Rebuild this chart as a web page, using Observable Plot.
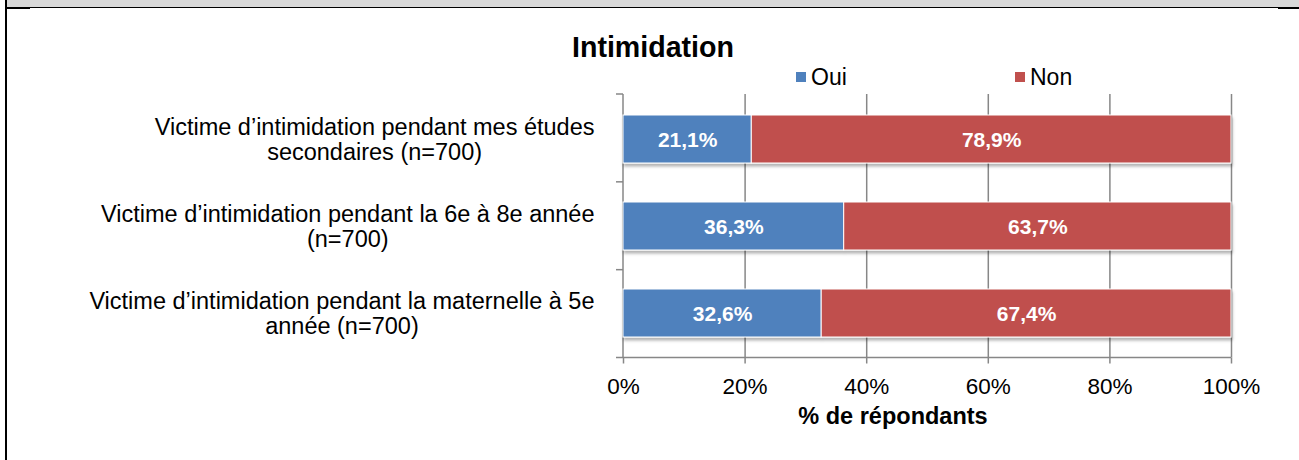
<!DOCTYPE html>
<html>
<head>
<meta charset="utf-8">
<script src="https://cdn.jsdelivr.net/npm/d3@7"></script>
<script src="https://cdn.jsdelivr.net/npm/@observablehq/plot@0.6"></script>
<style>
  html, body { margin: 0; padding: 0; background: #fff; }
  #wrap { position: relative; width: 1299px; height: 460px; overflow: hidden; background: #fff;
          font-family: "Liberation Sans", Arial, sans-serif; color: #000; }
  #wrap svg { position: absolute; left: 0; top: 0; }
  .abs { position: absolute; white-space: nowrap; line-height: 1; }
</style>
</head>
<body>
<div id="wrap"></div>
<script>
// ---- data ----
const chartTitle = "Intimidation";
const axisTitle = "% de répondants";
const categories = [
  "Victime d’intimidation pendant mes études\nsecondaires (n=700)",
  "Victime d’intimidation pendant la 6e à 8e année\n(n=700)",
  "Victime d’intimidation pendant la maternelle à 5e\nannée (n=700)"
];
const seriesNames = ["Oui", "Non"];
const oui = [21.1, 36.3, 32.6];
const non = [78.9, 63.7, 67.4];
const xTicks = [0, 20, 40, 60, 80, 100];
const seriesColors = ["#4f81bd", "#c0504d"];

const rows = categories.flatMap((c, i) => [
  {cat: c, serie: seriesNames[0], value: oui[i]},
  {cat: c, serie: seriesNames[1], value: non[i]}
]);

const axisGray = "#878787";
const fmt = v => v.toFixed(1).replace(".", ",") + "%";

function axisFrame(index, scales, values, dims) {
  const x = scales.x;
  const {height, marginTop, marginBottom} = dims;
  const g = d3.create("svg:g").attr("stroke", axisGray).attr("stroke-width", 1.5).attr("fill", "none");
  const y0 = marginTop, y1 = height - marginBottom;
  const n = categories.length;
  g.append("line").attr("x1", x(0)).attr("x2", x(0)).attr("y1", y0).attr("y2", y1);
  g.append("line").attr("x1", x(0)).attr("x2", x(100)).attr("y1", y1).attr("y2", y1);
  d3.range(n + 1).forEach(i => {
    const yy = y0 + i * (y1 - y0) / n;
    g.append("line").attr("x1", x(0) - 7).attr("x2", x(0)).attr("y1", yy).attr("y2", yy);
  });
  return g.node();
}

const chart = Plot.plot({
  width: 1299,
  height: 460,
  marginLeft: 623,
  marginRight: 68,
  marginTop: 94,
  marginBottom: 102.5,
  style: {fontFamily: "'Liberation Sans', Arial, sans-serif", fontSize: "23px", color: "#000", background: "transparent"},
  x: {domain: [0, 100]},
  y: {domain: categories, paddingInner: 0.453, paddingOuter: 0.2265},
  color: {domain: seriesNames, range: seriesColors},
  marks: [
    Plot.gridX({ticks: xTicks.filter(t => t > 0), stroke: axisGray, strokeOpacity: 1, strokeWidth: 1.5}),
    axisFrame,
    Plot.barX(rows, Plot.stackX({x: "value", y: "cat", fill: "serie", stroke: "#fff", strokeWidth: 1})),
    Plot.text(rows, Plot.stackX({x: "value", y: "cat", z: "serie", text: d => fmt(d.value),
      fill: "#fff", fontWeight: "bold", fontSize: 21, dy: 1})),
    Plot.axisX({ticks: xTicks, tickFormat: d => d + "%", tickSize: 6, tickPadding: 14.5,
      stroke: axisGray, strokeWidth: 1.5, fill: "#000", fontSize: 22.5, label: null}),
    Plot.axisY({tickSize: 0, tickPadding: 29, fontSize: 23.5, lineHeight: 1.07, fill: "#000",
      label: null, dy: 0})
  ]
});

const wrap = document.getElementById("wrap");

// frame decorations
function addDiv(style) { const d = document.createElement("div"); d.style.cssText = "position:absolute;" + style; wrap.appendChild(d); return d; }
addDiv("left:7px;top:0;width:1292px;height:6.5px;background:#d9d9d9;");
addDiv("left:7px;top:6.5px;width:1292px;height:1px;background:#000;");
addDiv("left:7px;top:7.5px;width:23px;height:1.5px;background:#000;");
addDiv("left:1278px;top:7.5px;width:21px;height:1.5px;background:#000;");
addDiv("left:5px;top:0;width:2px;height:460px;background:#000;");

wrap.appendChild(chart);

// shadow under bars
const svg = d3.select(chart);
const defs = svg.insert("defs", ":first-child");
defs.append("filter").attr("id", "barshadow").attr("x", "-5%").attr("y", "-20%").attr("width", "110%").attr("height", "150%")
  .append("feDropShadow").attr("dx", 1).attr("dy", 3).attr("stdDeviation", 1.8)
  .attr("flood-color", "#000").attr("flood-opacity", 0.3);
svg.selectAll('g[aria-label="bar"]').attr("filter", "url(#barshadow)");

// center the lines of each y label inside its right-aligned block
svg.selectAll('g[aria-label="y-axis tick label"] text').each(function() {
  const w = this.getBBox().width;
  this.setAttribute("text-anchor", "middle");
  const tspans = this.querySelectorAll("tspan");
  if (tspans.length) tspans.forEach(t => t.setAttribute("x", -w / 2));
  else this.setAttribute("dx", -w / 2);
});

// title
const t = document.createElement("div");
t.className = "abs";
t.textContent = chartTitle;
t.style.cssText += "left:453px;width:400px;text-align:center;top:33px;font-size:28.6px;font-weight:bold;";
wrap.appendChild(t);

// legend
const legendX = [796, 1015];
seriesNames.forEach((name, i) => {
  const sq = document.createElement("div");
  sq.style.cssText = `position:absolute;left:${legendX[i]}px;top:72px;width:10px;height:10px;background:${seriesColors[i]};`;
  wrap.appendChild(sq);
  const lab = document.createElement("div");
  lab.className = "abs";
  lab.textContent = name;
  lab.style.cssText += `left:${legendX[i] + 15}px;top:65.5px;font-size:23px;`;
  wrap.appendChild(lab);
});

// x axis title
const at = document.createElement("div");
at.className = "abs";
at.textContent = axisTitle;
at.style.cssText += "left:693px;width:400px;text-align:center;top:404.5px;font-size:23.5px;font-weight:bold;";
wrap.appendChild(at);
</script>
</body>
</html>
